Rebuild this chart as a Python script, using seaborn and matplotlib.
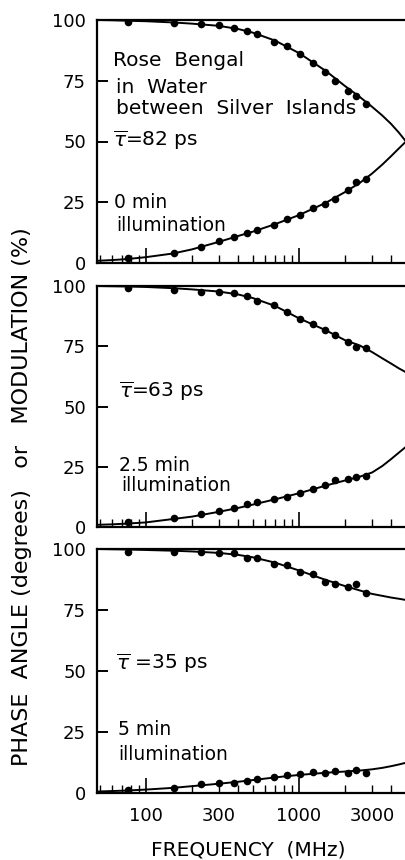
import matplotlib
matplotlib.use("Agg")
import matplotlib.pyplot as plt
import seaborn as sns
from matplotlib.ticker import LogLocator, FixedLocator, FuncFormatter

# measured frequencies (MHz), same set in every panel
freq = [76, 152, 229, 300, 376, 457, 531, 687, 836, 1016, 1236, 1481, 1720, 2090, 2360, 2740]

# data points
mod_0min = [99.3, 98.9, 98.5, 98.0, 96.8, 95.5, 94.3, 91.1, 89.3, 86.1, 82.5, 78.4, 75.0, 70.9, 68.9, 65.6]
phase_0min = [2.2, 4.0, 6.7, 9.1, 10.7, 12.3, 13.5, 15.6, 18.0, 19.8, 22.5, 24.3, 26.5, 30.0, 33.2, 34.6]
mod_25min = [99.0, 98.3, 97.6, 97.4, 97.0, 95.9, 93.9, 92.0, 89.1, 86.4, 84.1, 81.7, 79.5, 76.9, 74.8, 74.1]
phase_25min = [2.2, 3.6, 5.3, 6.8, 7.8, 9.5, 10.2, 11.6, 12.6, 14.2, 15.8, 17.4, 19.5, 19.9, 20.6, 21.2]
mod_5min = [98.9, 98.9, 98.6, 98.2, 98.2, 96.2, 96.4, 93.9, 93.5, 90.5, 89.8, 86.4, 85.7, 84.6, 85.5, 81.9]
phase_5min = [1.2, 2.0, 3.5, 4.3, 4.3, 4.9, 5.6, 6.6, 7.3, 7.9, 8.5, 8.0, 9.0, 8.4, 9.6, 8.4]

# fitted curves, sampled off the figure
curve_freq = [48, 60, 75, 100, 150, 200, 300, 400, 500, 700, 1000, 1500, 2000, 2500, 3000, 3500, 4000, 4500, 5000]
mod_fit_0min = [100, 99.9, 99.7, 99.5, 99.0, 98.5, 97.6, 96.3, 94.8, 91.5, 86.4, 79.0, 72.8, 68.3, 64.3, 60.7, 57.2, 53.6, 50.0]
phase_fit_0min = [0.9, 1.2, 1.6, 2.4, 3.9, 5.6, 8.7, 11.1, 12.9, 16.0, 19.7, 24.8, 29.2, 33.0, 36.8, 40.5, 44.0, 47.2, 50.0]
mod_fit_25min = [100, 99.9, 99.8, 99.6, 99.1, 98.6, 97.7, 96.5, 95.0, 91.7, 86.6, 81.6, 77.5, 75.3, 72.6, 70.0, 67.8, 65.8, 64.2]
phase_fit_25min = [0.9, 1.1, 1.4, 1.9, 3.3, 4.3, 6.3, 7.9, 9.3, 11.5, 14.0, 17.2, 19.3, 20.9, 22.6, 25.3, 28.2, 30.9, 33.3]
mod_fit_5min = [100, 99.9, 99.8, 99.6, 99.3, 99.0, 98.4, 97.6, 96.6, 94.4, 91.2, 87.3, 84.8, 83.0, 81.6, 80.8, 80.1, 79.6, 79.1]
phase_fit_5min = [0.6, 0.8, 1.0, 1.4, 2.1, 2.8, 3.8, 4.6, 5.3, 6.4, 7.4, 8.3, 8.8, 9.2, 9.7, 10.3, 11.0, 11.7, 12.4]

y_ticks = [0, 25, 50, 75, 100]
x_labels = [100, 300, 1000, 3000]

sns.set_style("ticks")
plt.rcParams["font.family"] = ["DejaVu Sans"]
plt.rcParams["mathtext.fontset"] = "dejavusans"
for key in ("text.color", "axes.labelcolor", "xtick.color", "ytick.color", "axes.edgecolor"):
    plt.rcParams[key] = "black"

fig = plt.figure(figsize=(4.06, 8.6), dpi=100)
left, width = 97 / 406, 1 - 97 / 406
boxes = [(263, 20), (527, 286), (793, 549)]   # (bottom px, top px)
axes = [fig.add_axes([left, 1 - b / 860, width, (b - t) / 860]) for b, t in boxes]


def draw_panel(ax, mod, phase, mod_fit, phase_fit):
    for yy in (mod_fit, phase_fit):
        sns.lineplot(x=curve_freq, y=yy, ax=ax, color="black", linewidth=1.4)
    for yy in (mod, phase):
        sns.scatterplot(x=freq, y=yy, ax=ax, color="black", s=30, linewidth=0, zorder=3)
    ax.set_xscale("log")
    ax.set_xlim(48, 5000)
    ax.set_ylim(0, 100)
    ax.set_yticks(y_ticks)
    ax.set_yticklabels([str(t) for t in y_ticks])
    ax.xaxis.set_major_locator(FixedLocator([100, 1000]))
    ax.xaxis.set_minor_locator(LogLocator(base=10, subs=range(2, 10), numticks=20))
    ax.tick_params(axis="x", which="major", direction="in", length=11, width=1.2, pad=10, labelsize=13)
    ax.tick_params(axis="x", which="minor", direction="in", length=6, width=1.0, pad=10, labelsize=13)
    ax.tick_params(axis="y", which="major", direction="in", length=8, width=1.4, pad=8, labelsize=13)
    ax.tick_params(axis="y", which="minor", left=False)
    for side in ("left", "top", "bottom"):
        ax.spines[side].set_linewidth(1.6)
    ax.spines["right"].set_visible(False)
    ax.set_xlabel("")
    ax.set_ylabel("")


draw_panel(axes[0], mod_0min, phase_0min, mod_fit_0min, phase_fit_0min)
draw_panel(axes[1], mod_25min, phase_25min, mod_fit_25min, phase_fit_25min)
draw_panel(axes[2], mod_5min, phase_5min, mod_fit_5min, phase_fit_5min)

for ax in axes[:2]:
    ax.tick_params(axis="x", which="both", labelbottom=False)

fmt = FuncFormatter(lambda v, p: f"{v:.0f}" if round(v) in x_labels else "")
axes[2].xaxis.set_major_formatter(fmt)
axes[2].xaxis.set_minor_formatter(fmt)

fs = 14.5
ax = axes[0]
ax.text(61, 83.5, "Rose  Bengal", fontsize=fs, va="center")
ax.text(63.7, 72.4, "in  Water", fontsize=fs, va="center")
ax.text(63.7, 63.4, "between  Silver  Islands", fontsize=fs, va="center")
ax.text(61, 50.6, r"$\overline{\tau}$=82 ps", fontsize=fs, va="center")
ax.text(61.8, 24.7, "0 min", fontsize=fs - 1, va="center")
ax.text(63.7, 15.6, "illumination", fontsize=fs - 1, va="center")

ax = axes[1]
ax.text(66.7, 56.4, r"$\overline{\tau}$=63 ps", fontsize=fs, va="center")
ax.text(66.7, 25.7, "2.5 min", fontsize=fs - 1, va="center")
ax.text(68.7, 17.4, "illumination", fontsize=fs - 1, va="center")

ax = axes[2]
ax.text(63.7, 53.3, r"$\overline{\tau}$ =35 ps", fontsize=fs, va="center")
ax.text(65.6, 25.9, "5 min", fontsize=fs - 1, va="center")
ax.text(65.6, 15.7, "illumination", fontsize=fs - 1, va="center")

fig.text(22 / 406, 1 - 497 / 860, "PHASE  ANGLE (degrees)   or   MODULATION (%)",
         rotation=90, ha="center", va="center", fontsize=16)
fig.text(248 / 406, 1 - 850 / 860, "FREQUENCY  (MHz)", ha="center", va="center", fontsize=14.5)

fig.savefig("out.png", dpi=100)
